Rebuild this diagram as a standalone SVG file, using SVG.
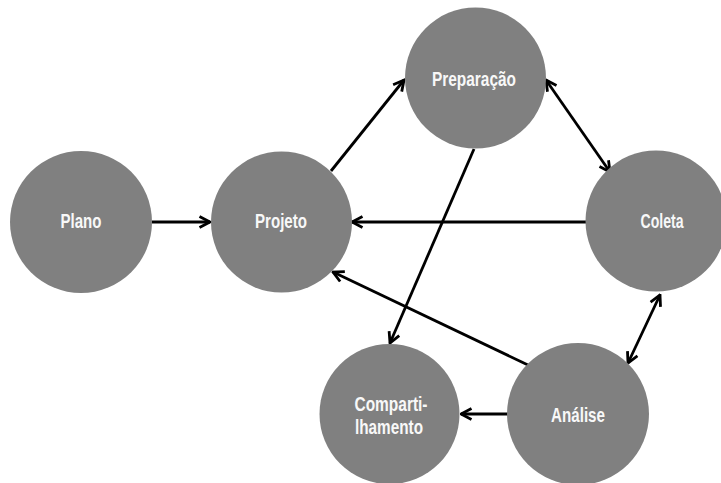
<svg xmlns="http://www.w3.org/2000/svg" width="721" height="483" viewBox="0 0 721 483">
  <style>
    .node circle { fill: #808080; }
    .node text { fill: #f8f8f8; font-family: "Liberation Sans Narrow", "Liberation Sans", Arial, sans-serif; font-weight: bold; font-size: 21px; text-anchor: middle; }
    .edge { stroke: #000000; stroke-width: 2.8; fill: none; }
  </style>
  <defs>
    <marker id="head" viewBox="0 0 14 14" refX="12.5" refY="7" markerWidth="14" markerHeight="14" markerUnits="userSpaceOnUse" orient="auto-start-reverse">
      <path d="M2,1.5 L12.5,7 L2,12.5" fill="none" stroke="#000000" stroke-width="2.8" stroke-linejoin="miter"/>
    </marker>
  </defs>
  <rect width="721" height="483" fill="#ffffff"/>

  <g id="connectors">
    <line class="edge" x1="152" y1="222" x2="210" y2="222" marker-end="url(#head)"/>
    <line class="edge" x1="331" y1="171" x2="404" y2="80" marker-end="url(#head)"/>
    <line class="edge" x1="546" y1="80" x2="610" y2="172" marker-start="url(#head)" marker-end="url(#head)"/>
    <line class="edge" x1="586" y1="222" x2="352" y2="222" marker-end="url(#head)"/>
    <line class="edge" x1="474" y1="149" x2="390" y2="343" marker-end="url(#head)"/>
    <line class="edge" x1="528" y1="365" x2="333" y2="272" marker-end="url(#head)"/>
    <line class="edge" x1="660" y1="295" x2="628" y2="363" marker-start="url(#head)" marker-end="url(#head)"/>
    <line class="edge" x1="508" y1="414" x2="461" y2="414" marker-end="url(#head)"/>
  </g>

  <g id="plano" class="node">
    <circle cx="81" cy="222" r="71"/>
    <text x="81" y="228" textLength="41" lengthAdjust="spacingAndGlyphs">Plano</text>
  </g>
  <g id="projeto" class="node">
    <circle cx="281.5" cy="222" r="70.5"/>
    <text x="281" y="228" textLength="52" lengthAdjust="spacingAndGlyphs">Projeto</text>
  </g>
  <g id="preparacao" class="node">
    <circle cx="475.5" cy="78" r="70.5"/>
    <text x="474" y="86" textLength="84" lengthAdjust="spacingAndGlyphs">Preparação</text>
  </g>
  <g id="coleta" class="node">
    <circle cx="656" cy="221" r="70.5"/>
    <text x="662" y="228" textLength="43" lengthAdjust="spacingAndGlyphs">Coleta</text>
  </g>
  <g id="analise" class="node">
    <circle cx="578" cy="414" r="71"/>
    <text x="578" y="422" textLength="54" lengthAdjust="spacingAndGlyphs">Análise</text>
  </g>
  <g id="compartilhamento" class="node">
    <circle cx="389.5" cy="414" r="70"/>
    <text x="391" y="411" textLength="73" lengthAdjust="spacingAndGlyphs">Comparti-</text>
    <text x="389" y="434" textLength="68" lengthAdjust="spacingAndGlyphs">lhamento</text>
  </g>
</svg>
